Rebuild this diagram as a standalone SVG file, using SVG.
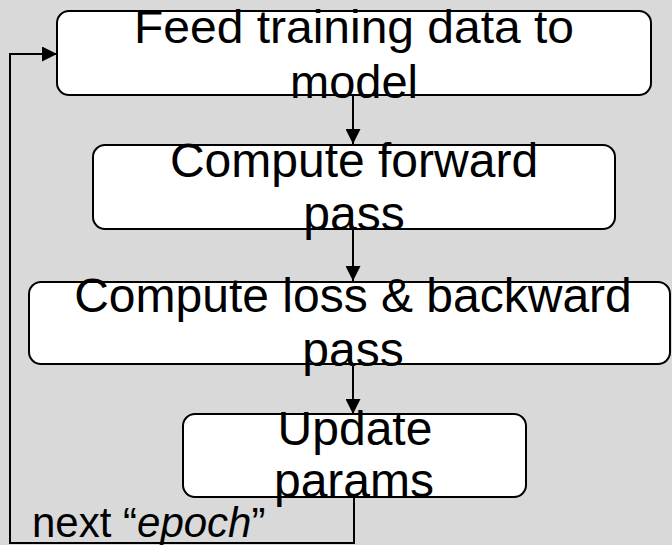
<svg xmlns="http://www.w3.org/2000/svg" width="672" height="545" viewBox="0 0 672 545">
<defs>
<style>
.box{fill:#ffffff;stroke:#000000;stroke-width:2}
.t{font-family:"Liberation Sans",Arial,sans-serif;fill:#000000;text-anchor:middle}
.c{fill:none;stroke:#000000;stroke-width:2}
</style>
<marker id="ah" markerWidth="8" markerHeight="8" refX="8" refY="4" orient="auto" markerUnits="userSpaceOnUse" viewBox="0 0 8 8">
<path d="M0,0 L8,4 L0,8 Z" fill="#000000"/>
</marker>
<marker id="ah2" viewBox="0 0 15 15" refX="15" refY="7.5" markerWidth="15" markerHeight="15" orient="auto" markerUnits="userSpaceOnUse">
<path d="M0,0 L15,7.5 L0,15 Z" fill="#000000"/>
</marker>
</defs>
<rect x="0" y="0" width="672" height="545" fill="#d9d9d9"/>
<g id="connectors">
<line class="c" x1="353" y1="95" x2="353" y2="144" marker-end="url(#ah2)"/>
<line class="c" x1="353" y1="229" x2="353" y2="281" marker-end="url(#ah2)"/>
<line class="c" x1="353" y1="364" x2="353" y2="414" marker-end="url(#ah2)"/>
<polyline class="c" points="354,497 354,543 10,543 10,54 57,54" marker-end="url(#ah2)"/>
</g>
<g id="node1">
<rect class="box" x="57" y="11" width="594" height="84" rx="12"/>
<text class="t" x="354" y="43" font-size="46" textLength="440" lengthAdjust="spacingAndGlyphs">Feed training data to</text>
<text class="t" x="354" y="98" font-size="47">model</text>
</g>
<g id="node2">
<rect class="box" x="93" y="145" width="522" height="84" rx="12"/>
<text class="t" x="354" y="177" font-size="48">Compute forward</text>
<text class="t" x="354" y="230" font-size="48">pass</text>
</g>
<g id="node3">
<rect class="box" x="29" y="282" width="641" height="82" rx="12"/>
<text class="t" x="353" y="312" font-size="48">Compute loss &amp; backward</text>
<text class="t" x="353" y="366" font-size="48">pass</text>
</g>
<g id="node4">
<rect class="box" x="183" y="414" width="343" height="83" rx="12"/>
<text class="t" x="355" y="445" font-size="48">Update</text>
<text class="t" x="354" y="497" font-size="48">params</text>
</g>
<g id="label">
<text x="32" y="537" font-size="42" font-family="'Liberation Sans',Arial,sans-serif" fill="#000000">next “<tspan font-style="italic">epoch</tspan>”</text>
</g>
</svg>
